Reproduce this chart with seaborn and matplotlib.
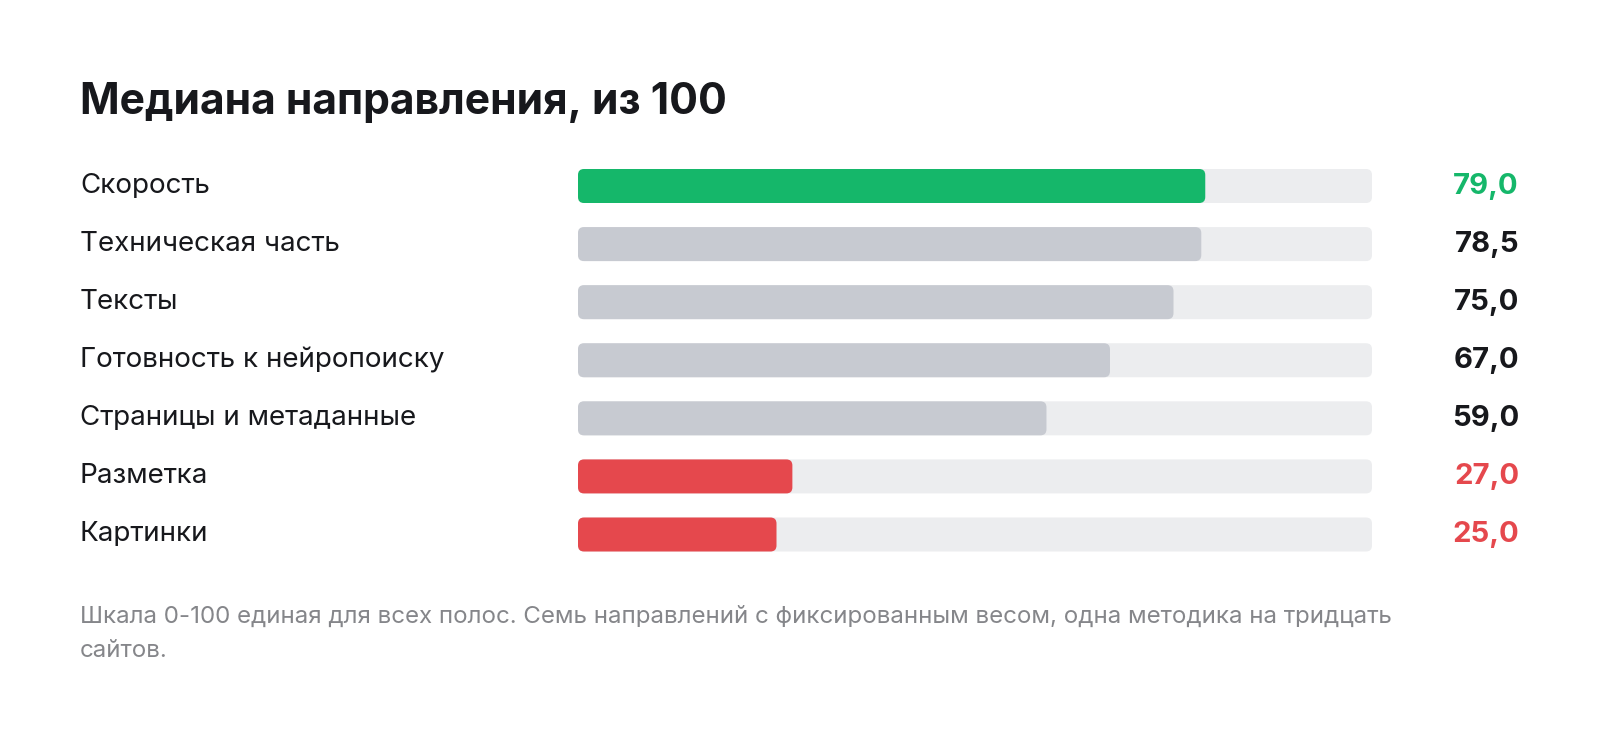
import matplotlib
matplotlib.use("Agg")
import matplotlib.pyplot as plt
import seaborn as sns
import pandas as pd
from matplotlib.patches import FancyBboxPatch
from matplotlib.transforms import blended_transform_factory

# data
categories = ["Скорость", "Техническая часть", "Тексты", "Готовность к нейропоиску",
              "Страницы и метаданные", "Разметка", "Картинки"]
scores = [79.0, 78.5, 75.0, 67.0, 59.0, 27.0, 25.0]
scale_max = 100
value_labels = ["79,0", "78,5", "75,0", "67,0", "59,0", "27,0", "25,0"]
bar_colors = ["#15b76a", "#c7cad1", "#c7cad1", "#c7cad1", "#c7cad1", "#e5484d", "#e5484d"]
text_colors = ["#15b76a", "#17181c", "#17181c", "#17181c", "#17181c", "#e5484d", "#e5484d"]
title = "Медиана направления, из 100"
note_lines = ["Шкала 0-100 единая для всех полос. Семь направлений с фиксированным весом, одна методика на тридцать",
              "сайтов."]

sns.set_theme(style="white")
plt.rcParams["font.family"] = ["Inter", "DejaVu Sans"]

W, H = 1600, 730
fig = plt.figure(figsize=(W / 100, H / 100), dpi=100)
fig.patch.set_facecolor("white")

ax_left, ax_w = 578, 794
row_top, row_bot = 186, 534.5
pitch = (row_bot - row_top) / (len(categories) - 1)
ax_top = row_top - pitch / 2
ax_h = pitch * len(categories)
ax = fig.add_axes([ax_left / W, 1 - (ax_top + ax_h) / H, ax_w / W, ax_h / H])

df = pd.DataFrame({"cat": categories, "score": scores, "track": [scale_max] * len(categories)})
bar_h = 34 / pitch

# grey track first, then the score bars on top
sns.barplot(data=df, x="track", y="cat", color="#ecedef", saturation=1, width=bar_h, ax=ax, orient="h")
sns.barplot(data=df, x="score", y="cat", hue="cat", palette=bar_colors, saturation=1, width=bar_h,
            legend=False, ax=ax, orient="h")

ax.set_xlim(0, scale_max)
ax.set_ylim(len(categories) - 0.5, -0.5)
ax.axis("off")

# round the bar corners
px_x = ax_w / scale_max
px_y = pitch
radius = 6
for p in list(ax.patches):
    x, y = p.get_x(), p.get_y()
    w, h = p.get_width(), p.get_height()
    fb = FancyBboxPatch((x, y), w, h,
                        boxstyle=f"round,pad=0,rounding_size={radius / px_x}",
                        mutation_aspect=px_x / px_y,
                        facecolor=p.get_facecolor(), edgecolor="none", zorder=p.get_zorder())
    p.remove()
    ax.add_patch(fb)

tr = blended_transform_factory(fig.transFigure, ax.transData)
for i, (cat, vl, tc) in enumerate(zip(categories, value_labels, text_colors)):
    ax.text(80 / W, i, cat, transform=tr, ha="left", va="center",
            fontsize=20, color="#17181c")
    ax.text(1519 / W, i, vl, transform=tr, ha="right", va="center",
            fontsize=21, fontweight="bold", color=tc)

fig.text(80 / W, 1 - 114 / H, title, ha="left", va="baseline",
         fontsize=30.7, fontweight="bold", color="#17181c")
for k, line in enumerate(note_lines):
    fig.text(80 / W, 1 - (623 + 34 * k) / H, line, ha="left", va="baseline",
             fontsize=17.35, color="#85868a")

fig.savefig("out.png", dpi=100, facecolor="white")
